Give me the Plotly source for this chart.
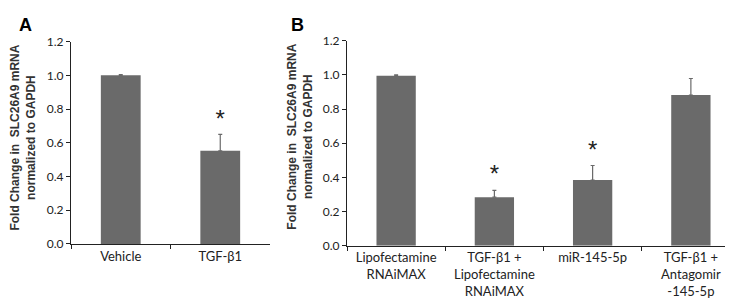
import plotly.graph_objects as go

# Panel A data
cats_a = ["Vehicle", "TGF-β1"]
vals_a = [1.0, 0.553]
err_a = [0.004, 0.097]
star_a = [None, 0.73]

# Panel B data
cats_b = ["Lipofectamine<br>RNAiMAX", "TGF-β1 +<br>Lipofectamine<br>RNAiMAX", "miR-145-5p", "TGF-β1 +<br>Antagomir<br>-145-5p"]
vals_b = [0.995, 0.285, 0.385, 0.882]
err_b = [0.005, 0.04, 0.085, 0.097]
star_b = [None, 0.41, 0.55, None]

y_ticks = [0.0, 0.2, 0.4, 0.6, 0.8, 1.0, 1.2]
y_ticklabels = ["0.0", "0.2", "0.4", "0.6", "0.8", "1.0", "1.2"]

bar_color = "#6a6a6a"
tick_font = dict(family="Lato, Arial", size=12, color="#222")

fig = go.Figure()

def add_panel(cats, vals, errs, stars, xa, ya):
    fig.add_trace(go.Bar(
        x=cats, y=vals, xaxis=xa, yaxis=ya, width=0.4,
        marker=dict(color=bar_color, line=dict(width=0)),
        error_y=dict(type="data", array=errs, arrayminus=[0]*len(errs), symmetric=False,
                     color=bar_color, thickness=1.2, width=2),
        showlegend=False, hoverinfo="skip"))
    sx = [c for c, s in zip(cats, stars) if s is not None]
    sy = [s for s in stars if s is not None]
    fig.add_trace(go.Scatter(
        x=sx, y=sy, xaxis=xa, yaxis=ya, mode="text", text=["*"]*len(sx),
        textfont=dict(family="Arial", size=24, color="#222"),
        showlegend=False, hoverinfo="skip"))

add_panel(cats_a, vals_a, err_a, star_a, "x", "y")
add_panel(cats_b, vals_b, err_b, star_b, "x2", "y2")

W, H = 733, 299
xcommon = dict(showline=True, linecolor="#222", linewidth=1, ticks="outside", tickson="boundaries",
               ticklen=4, tickcolor="#222", tickfont=dict(family="Lato, Arial", size=13, color="#222"),
               showgrid=False, zeroline=False, fixedrange=True)
ycommon = dict(range=[0, 1.2], tickvals=y_ticks, ticktext=y_ticklabels, showline=True, linecolor="#222",
               linewidth=1, ticks="outside", ticklen=4, tickcolor="#222", tickfont=tick_font,
               showgrid=False, zeroline=False)

fig.update_layout(
    width=W, height=H, margin=dict(l=0, r=0, t=0, b=0),
    plot_bgcolor="white", paper_bgcolor="white", bargap=0.6,
    xaxis=dict(domain=[63/W, 262/W], anchor="y", **xcommon),
    yaxis=dict(domain=[(H-240)/H, (H-27)/H], anchor="x", **ycommon),
    xaxis2=dict(domain=[339/W, 732/W], anchor="y2", **xcommon),
    yaxis2=dict(domain=[(H-242)/H, (H-26)/H], anchor="x2", **ycommon),
)

title_text = "<b>Fold Change in  SLC26A9 mRNA<br>normalized to GAPDH</b>"
for xc, yc in [(15, 128), (292, 127)]:
    fig.add_annotation(x=xc/W, y=(H-yc)/H, xref="paper", yref="paper", text=title_text,
                       textangle=-90, showarrow=False, xanchor="center", yanchor="middle",
                       font=dict(family="Arial", size=12, color="#333"))

for lbl, xc in [("A", 17), ("B", 289)]:
    fig.add_annotation(x=xc/W, y=(H-10)/H, xref="paper", yref="paper", text=f"<b>{lbl}</b>",
                       showarrow=False, xanchor="center", yanchor="middle",
                       font=dict(family="Arial", size=18, color="#000"))

fig.write_html("out.html")
